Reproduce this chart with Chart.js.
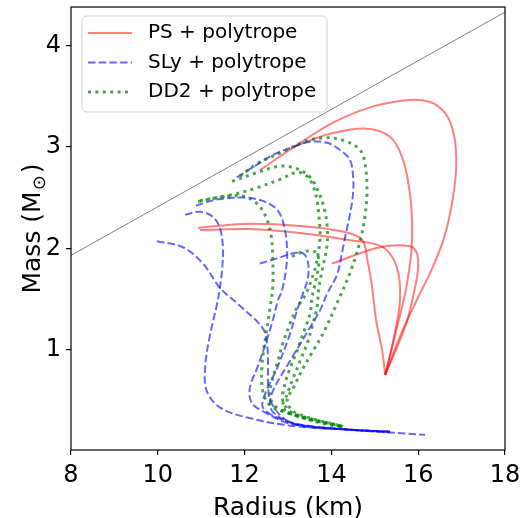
<!DOCTYPE html>
<html>
<head>
<meta charset="utf-8">
<script src="https://cdn.jsdelivr.net/npm/chart.js@4"></script>
<style>
  html, body { margin: 0; padding: 0; background: #fff; }
  #wrap { width: 523px; height: 518px; }
</style>
</head>
<body>
<div id="wrap"><canvas id="mr"></canvas></div>
<script>
// ── Data: [radius (km), mass (Msun)] ──
const X_TICKS = [8, 10, 12, 14, 16, 18];
const Y_TICKS = [1, 2, 3, 4];
const LABELS = ["PS + polytrope", "SLy + polytrope", "DD2 + polytrope"];

const LIMIT_R = [8, 18];
const LIMIT_M = [1.93, 4.33];

const PS_CURVES = [
  [[12.35, 2.77], [13.28, 3.04], [14.04, 3.24], [14.89, 3.39], [15.7, 3.46], [16.1, 3.46], [16.43, 3.41], [16.7, 3.28], [16.85, 3.05], [16.87, 2.75], [16.76, 2.4], [16.58, 2.08], [16.3, 1.78], [15.98, 1.5], [15.6, 1.15], [15.24, 0.75]],
  [[13.12, 3.0], [13.97, 3.13], [14.82, 3.18], [15.35, 3.1], [15.63, 2.9], [15.79, 2.6], [15.86, 2.25], [15.84, 1.95], [15.72, 1.6], [15.5, 1.2], [15.24, 0.75]],
  [[10.93, 2.2], [11.96, 2.24], [13.28, 2.22], [14.31, 2.16], [14.71, 2.08], [14.84, 1.86], [14.94, 1.61], [15.03, 1.29], [15.17, 0.99], [15.24, 0.75]],
  [[10.97, 2.18], [12.12, 2.19], [13.28, 2.15], [14.43, 2.08], [15.19, 2.01], [15.51, 1.81], [15.58, 1.49], [15.44, 1.12], [15.24, 0.75]],
  [[14.01, 1.85], [15.12, 2.01], [15.81, 2.02], [15.97, 1.95], [16.0, 1.81], [15.93, 1.62], [15.72, 1.25], [15.24, 0.75]],
];

const SLY_CURVES = [
  [[9.98, 2.07], [10.58, 2.01], [11.04, 1.85], [11.43, 1.61], [11.82, 1.46], [12.42, 1.21], [12.52, 1.04], [12.54, 0.84], [12.54, 0.67], [12.59, 0.5], [12.88, 0.33], [13.28, 0.25], [14.43, 0.21], [15.35, 0.19]],
  [[10.63, 2.33], [10.97, 2.36], [11.27, 2.31], [11.43, 2.2], [11.5, 2.01], [11.48, 1.78], [11.43, 1.61], [11.36, 1.44], [11.2, 1.14], [11.09, 0.82], [11.13, 0.59], [11.43, 0.43], [12.06, 0.33], [13.05, 0.25], [14.43, 0.21], [15.35, 0.19]],
  [[10.88, 2.42], [11.36, 2.48], [11.96, 2.5], [12.4, 2.47], [12.75, 2.38], [12.91, 2.22], [12.98, 1.98], [12.95, 1.78], [12.86, 1.58], [12.77, 1.49], [12.65, 1.29], [12.47, 1.04], [12.29, 0.82], [12.12, 0.62], [12.17, 0.47], [12.52, 0.37], [13.05, 0.27], [14.43, 0.21], [16.16, 0.16]],
  [[12.35, 1.85], [12.75, 1.9], [13.12, 1.95], [13.35, 1.95], [13.46, 1.86], [13.46, 1.71], [13.35, 1.56], [13.21, 1.39], [13.05, 1.16], [12.75, 0.82], [12.47, 0.56], [12.42, 0.43], [12.75, 0.33], [13.28, 0.26], [14.43, 0.21], [15.35, 0.19]],
  [[11.82, 2.7], [12.19, 2.8], [12.65, 2.92], [13.12, 3.0], [13.51, 3.05], [13.9, 3.04], [14.2, 2.97], [14.43, 2.87], [14.5, 2.7], [14.5, 2.54], [14.43, 2.34], [14.36, 2.2], [14.27, 2.01], [14.13, 1.74], [13.9, 1.55], [13.74, 1.39], [13.51, 1.22], [13.05, 0.89], [12.65, 0.59], [12.59, 0.43], [12.82, 0.33], [13.28, 0.26], [14.43, 0.21], [15.35, 0.19]],
];

const DD2_CURVES = [
  [[10.93, 2.46], [11.55, 2.51], [12.01, 2.51], [12.31, 2.43], [12.49, 2.31], [12.61, 2.13], [12.65, 1.88], [12.65, 1.63], [12.59, 1.42], [12.49, 1.14], [12.4, 0.84], [12.42, 0.59], [12.59, 0.45], [13.05, 0.37], [13.81, 0.27], [14.27, 0.24]],
  [[10.97, 2.47], [11.73, 2.53], [12.31, 2.6], [12.82, 2.68], [13.21, 2.75], [13.44, 2.71], [13.58, 2.61], [13.67, 2.47], [13.71, 2.33], [13.74, 2.13], [13.69, 1.93], [13.58, 1.74], [13.39, 1.53], [13.21, 1.42], [13.05, 1.26], [12.88, 1.06], [12.75, 0.86], [12.63, 0.69], [12.59, 0.53], [12.77, 0.42], [13.28, 0.34], [14.27, 0.24]],
  [[11.89, 2.71], [12.31, 2.84], [12.82, 2.94], [13.21, 3.02], [13.51, 3.07], [13.92, 3.09], [14.31, 3.06], [14.66, 2.97], [14.78, 2.82], [14.82, 2.57], [14.78, 2.34], [14.66, 2.07], [14.43, 1.76], [14.13, 1.46], [13.81, 1.16], [13.58, 0.99], [13.35, 0.82], [13.12, 0.62], [12.98, 0.5], [13.16, 0.38], [14.27, 0.24]],
  [[11.71, 2.66], [12.24, 2.74], [12.82, 2.81], [13.23, 2.78], [13.51, 2.7], [13.69, 2.57], [13.83, 2.4], [13.9, 2.23], [13.9, 2.03], [13.81, 1.83], [13.71, 1.61], [13.67, 1.42], [13.55, 1.22], [13.44, 1.06], [13.28, 0.89], [13.12, 0.72], [12.98, 0.56], [12.88, 0.43], [13.16, 0.35], [14.27, 0.24]],
  [[13.09, 1.92], [13.39, 1.97], [13.64, 1.96], [13.71, 1.86], [13.64, 1.68], [13.55, 1.51], [13.51, 1.36], [13.35, 1.16], [13.21, 0.99], [13.05, 0.82], [12.93, 0.66], [12.88, 0.5], [13.09, 0.38], [14.27, 0.24]],
];

// ── Styles ──
const STYLES = [
  { color: "rgba(255,0,0,0.5)", width: 2, dash: [] },
  { color: "rgba(0,0,255,0.6)", width: 2, dash: [7.5, 3.2] },
  { color: "rgba(0,128,0,0.7)", width: 3, dash: [3, 4.4] },
];
const FONT = "'DejaVu Sans', Verdana, sans-serif";

const toPts = (c) => c.map(([x, y]) => ({ x, y }));
const curveSet = (c, st) => ({
  data: toPts(c),
  showLine: true,
  pointRadius: 0,
  borderColor: st.color,
  borderWidth: st.width,
  borderDash: st.dash,
  borderJoinStyle: "round",
  tension: 0.35,
  fill: false,
});

const datasets = [];
DD2_CURVES.forEach((c) => datasets.push(curveSet(c, STYLES[2])));
SLY_CURVES.forEach((c) => datasets.push(curveSet(c, STYLES[1])));
PS_CURVES.forEach((c) => datasets.push(curveSet(c, STYLES[0])));
datasets.push({
  data: LIMIT_R.map((r, i) => ({ x: r, y: LIMIT_M[i] })),
  showLine: true,
  pointRadius: 0,
  borderColor: "rgba(0,0,0,0.5)",
  borderWidth: 1,
  tension: 0,
});

// ── Frame, legend and y title ──
function roundBox(ctx, x, y, w, h, r) {
  ctx.beginPath();
  ctx.moveTo(x + r, y);
  ctx.arcTo(x + w, y, x + w, y + h, r);
  ctx.arcTo(x + w, y + h, x, y + h, r);
  ctx.arcTo(x, y + h, x, y, r);
  ctx.arcTo(x, y, x + w, y, r);
  ctx.closePath();
}

const decor = {
  id: "decor",
  afterDatasetsDraw(chart) {
    const { ctx, chartArea: a } = chart;
    ctx.save();
    ctx.strokeStyle = "#000";
    ctx.lineWidth = 1.2;
    ctx.strokeRect(a.left, a.top, a.right - a.left, a.bottom - a.top);

    const lx = a.left + 11, ly = a.top + 9, lw = 245, lh = 96;
    roundBox(ctx, lx, ly, lw, lh, 5);
    ctx.fillStyle = "rgba(255,255,255,0.8)";
    ctx.fill();
    ctx.strokeStyle = "#d0d0d0";
    ctx.lineWidth = 1;
    ctx.stroke();
    LABELS.forEach((t, i) => {
      const y = ly + 17 + i * 29.5;
      const st = STYLES[i];
      ctx.beginPath();
      ctx.moveTo(lx + 6, y);
      ctx.lineTo(lx + 50, y);
      ctx.strokeStyle = st.color;
      ctx.lineWidth = st.width;
      ctx.setLineDash(st.dash);
      ctx.stroke();
      ctx.setLineDash([]);
      ctx.fillStyle = "#000";
      ctx.font = "20px " + FONT;
      ctx.textBaseline = "middle";
      ctx.fillText(t, lx + 66, y);
    });

    // y title with subscript sun symbol
    const big = "Mass (M", sub = "\u2299", end = ")";
    ctx.translate(31, (a.top + a.bottom) / 2);
    ctx.rotate(-Math.PI / 2);
    ctx.textBaseline = "alphabetic";
    ctx.font = "25px " + FONT;
    const wBig = ctx.measureText(big).width, wEnd = ctx.measureText(end).width;
    ctx.font = "18px " + FONT;
    const wSub = ctx.measureText(sub).width;
    let x = -(wBig + wSub + wEnd + 3) / 2;
    ctx.font = "25px " + FONT;
    ctx.fillText(big, x, 9);
    x += wBig + 1;
    ctx.font = "18px " + FONT;
    ctx.fillText(sub, x, 14);
    x += wSub + 2;
    ctx.font = "25px " + FONT;
    ctx.fillText(end, x, 9);
    ctx.restore();
  },
};

const axisCommon = {
  type: "linear",
  grid: { display: true, drawOnChartArea: false, drawTicks: true, tickLength: 5, color: "#000", lineWidth: 1.2 },
  border: { display: false },
};

new Chart(document.getElementById("mr"), {
  type: "scatter",
  data: { datasets },
  plugins: [decor],
  options: {
    responsive: true,
    maintainAspectRatio: false,
    animation: false,
    layout: { padding: { top: 7, right: 18, left: 0, bottom: 0 } },
    plugins: { legend: { display: false }, tooltip: { enabled: false } },
    scales: {
      x: {
        ...axisCommon,
        min: 8,
        max: 18,
        afterBuildTicks: (s) => { s.ticks = X_TICKS.map((v) => ({ value: v })); },
        afterFit: (s) => { s.height = 68; s.paddingLeft = 0; s.paddingRight = 0; },
        ticks: { color: "#000", font: { family: FONT, size: 24 }, padding: 6, maxRotation: 0 },
        title: { display: true, text: "Radius (km)", color: "#000", font: { family: FONT, size: 25 }, padding: { top: 0, bottom: -5 } },
      },
      y: {
        ...axisCommon,
        min: 0.01,
        max: 4.38,
        afterBuildTicks: (s) => { s.ticks = Y_TICKS.map((v) => ({ value: v })); },
        afterFit: (s) => { s.width = 71; s.paddingTop = 0; s.paddingBottom = 0; },
        ticks: { color: "#000", font: { family: FONT, size: 24 }, padding: 5 },
      },
    },
  },
});
</script>
</body>
</html>
